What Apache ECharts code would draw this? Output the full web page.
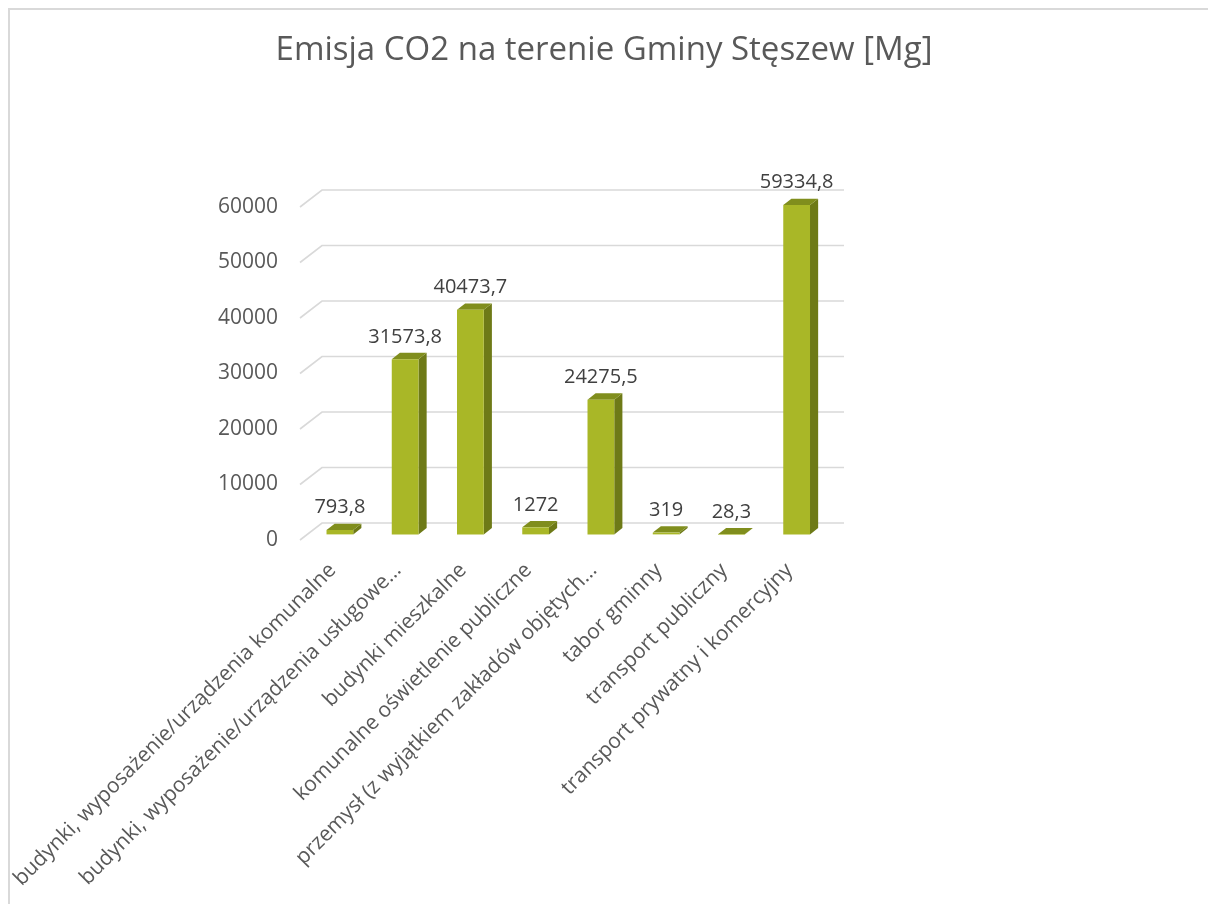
<!DOCTYPE html>
<html>
<head>
<meta charset="utf-8">
<script src="https://cdn.jsdelivr.net/npm/echarts@6/dist/echarts.min.js"></script>
<style>
  html, body { margin: 0; padding: 0; background: #fff; }
  #chart { width: 1208px; height: 904px; }
</style>
</head>
<body>
<div id="chart"></div>
<script>
  const categories = [
    'budynki, wyposażenie/urządzenia komunalne',
    'budynki, wyposażenie/urządzenia usługowe…',
    'budynki mieszkalne',
    'komunalne oświetlenie publiczne',
    'przemysł (z wyjątkiem zakładów objętych…',
    'tabor gminny',
    'transport publiczny',
    'transport prywatny i komercyjny'
  ]
  const emissions = [793.8, 31573.8, 40473.7, 1272, 24275.5, 319, 28.3, 59334.8]
  const yTicks = [0, 10000, 20000, 30000, 40000, 50000, 60000]

  // depth of the fake 3d box (front plane -> back wall)
  const DX = 22
  const DY = -17
  const FONT = '"Open Sans", "Noto Sans", sans-serif'
  const GREY = '#595959'

  const fmt = v => String(v).replace('.', ',')

  const myChart = echarts.init(document.getElementById('chart'))

  myChart.setOption({
    animation: false,
    title: {
      text: 'Emisja CO2 na terenie Gminy Stęszew [Mg]',
      left: 'center',
      top: 29,
      textStyle: { color: GREY, fontSize: 33, fontWeight: 'normal', fontFamily: FONT }
    },
    graphic: [{
      type: 'rect',
      shape: { x: 9, y: 9, width: 1300, height: 1000 },
      style: { fill: 'none', stroke: '#d9d9d9', lineWidth: 2 },
      silent: true
    }],
    grid: { left: 300, right: 386, top: 207, bottom: 364, containLabel: false },
    xAxis: {
      type: 'category',
      data: categories,
      axisLine: { show: false },
      axisTick: { show: false },
      axisLabel: {
        interval: 0,
        rotate: 45,
        margin: 27,
        color: GREY,
        fontSize: 21,
        fontFamily: FONT
      }
    },
    yAxis: {
      type: 'value',
      min: 0,
      max: 60000,
      interval: 10000,
      axisLine: { show: false },
      axisTick: { show: false },
      splitLine: { show: false },
      axisLabel: {
        margin: 22,
        color: GREY,
        fontSize: 21,
        fontFamily: FONT,
        formatter: v => String(v)
      }
    },
    series: [
      {
        // back wall grid lines + diagonal on the left side
        type: 'custom',
        z: 1,
        silent: true,
        data: yTicks.map(t => [0, t]),
        renderItem (params, api) {
          const cs = params.coordSys
          const y = api.coord([0, api.value(1)])[1]
          const l = cs.x
          const r = cs.x + cs.width
          return {
            type: 'polyline',
            shape: { points: [[l, y], [l + DX, y + DY], [r + DX, y + DY]] },
            style: { stroke: '#d9d9d9', lineWidth: 1.6, fill: 'none' }
          }
        }
      },
      {
        type: 'custom',
        z: 2,
        data: emissions.map((v, i) => [i, v]),
        renderItem (params, api) {
          const idx = api.value(0)
          const v = api.value(1)
          const top = api.coord([idx, v])
          const base = api.coord([idx, 0])
          const band = api.size([1, 0])[0]
          const w = band * 0.41
          const f0 = 0.33
          const f1 = 0.70
          const ox = DX * f0
          const oy = DY * f0
          const dx = DX * (f1 - f0)
          const dy = DY * (f1 - f0)
          const x0 = top[0] - w / 2 + ox
          const x1 = x0 + w
          const yT = top[1] + oy
          const yB = base[1] + oy
          return {
            type: 'group',
            children: [
              {
                type: 'polygon',
                shape: { points: [[x1, yT], [x1 + dx, yT + dy], [x1 + dx, yB + dy], [x1, yB]] },
                style: { fill: '#6e7a17' }
              },
              {
                type: 'polygon',
                shape: { points: [[x0, yT], [x1, yT], [x1 + dx, yT + dy], [x0 + dx, yT + dy]] },
                style: { fill: '#808e1d' }
              },
              {
                type: 'rect',
                shape: { x: x0, y: yT, width: w, height: Math.max(yB - yT, 0.5) },
                style: { fill: '#a9b727' }
              },
              {
                type: 'text',
                style: {
                  x: x0 + w / 2,
                  y: yT + dy - 6,
                  text: fmt(v),
                  align: 'center',
                  verticalAlign: 'bottom',
                  fill: '#404040',
                  fontSize: 20,
                  fontFamily: FONT
                }
              }
            ]
          }
        }
      }
    ]
  })
</script>
</body>
</html>
